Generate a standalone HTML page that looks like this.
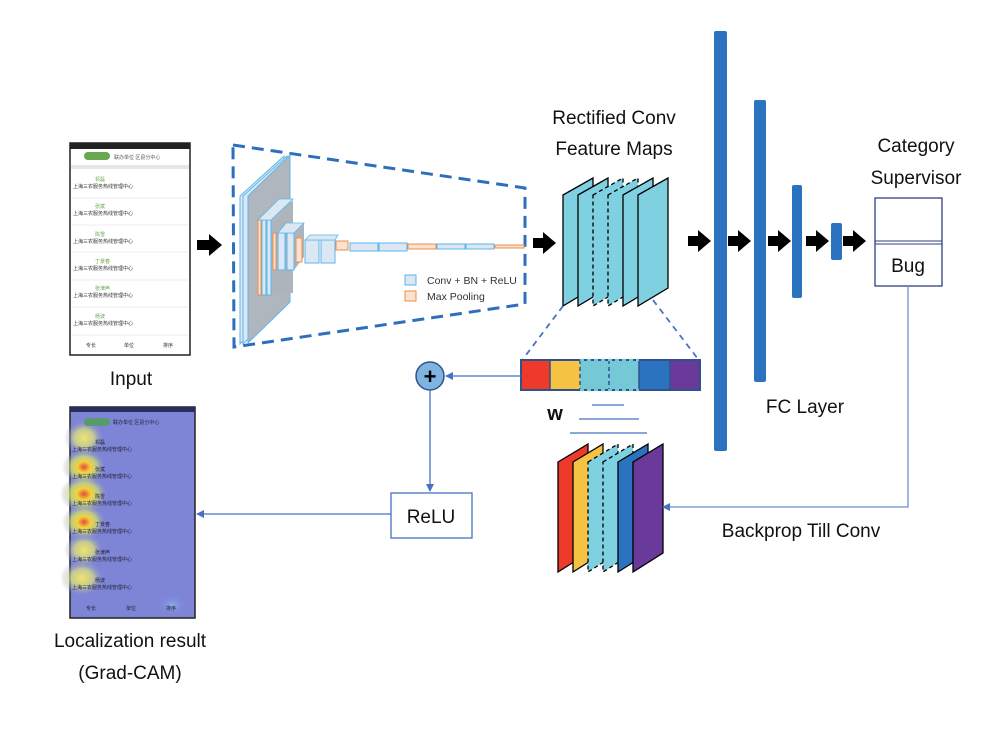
<!DOCTYPE html>
<html><head><meta charset="utf-8"><style>
body{margin:0;background:#fff;width:1004px;height:734px;overflow:hidden;font-family:"Liberation Sans","Noto Sans CJK SC",sans-serif}
svg{position:absolute;left:0;top:0}
</style></head><body>
<svg width="1004" height="734" viewBox="0 0 1004 734" font-family="Liberation Sans, Noto Sans CJK SC, sans-serif">
<defs>
<marker id="ah" markerWidth="8" markerHeight="8" refX="7" refY="4" orient="auto" markerUnits="userSpaceOnUse"><path d="M0,0 L8,4 L0,8 z" fill="#4472c4"/></marker>
<radialGradient id="hy"><stop offset="0" stop-color="#e84a3a"/><stop offset="0.3" stop-color="#f2d23a"/><stop offset="0.6" stop-color="#d6e46a" stop-opacity="0.7"/><stop offset="1" stop-color="#8088dc" stop-opacity="0"/></radialGradient>
<radialGradient id="hy2"><stop offset="0" stop-color="#f3e36a"/><stop offset="0.5" stop-color="#e0e67a" stop-opacity="0.7"/><stop offset="1" stop-color="#8088dc" stop-opacity="0"/></radialGradient>
<radialGradient id="hb"><stop offset="0" stop-color="#8fb8f0" stop-opacity="0.8"/><stop offset="1" stop-color="#8088dc" stop-opacity="0"/></radialGradient>
</defs>

<!-- Input phone -->
<rect x="70" y="143" width="120" height="212" fill="#fff" stroke="#222" stroke-width="1.5"/>
<rect x="70" y="143" width="120" height="6" fill="#222"/>
<rect x="84" y="152" width="26" height="8" rx="4" fill="#6aa84f"/>
<text x="114" y="159" font-size="5" fill="#555">联办单位  区县分中心</text>
<rect x="71" y="165" width="118" height="4" fill="#e6e6e6"/>
<g font-size="5" fill="#333">
<text x="95" y="181" fill="#6aa84f">祁磊</text><text x="73" y="188">上海三农服务热线管理中心</text>
<text x="95" y="208" fill="#6aa84f">张斌</text><text x="73" y="215">上海三农服务热线管理中心</text>
<text x="95" y="236" fill="#6aa84f">陈雪</text><text x="73" y="243">上海三农服务热线管理中心</text>
<text x="95" y="263" fill="#6aa84f">丁景春</text><text x="73" y="270">上海三农服务热线管理中心</text>
<text x="95" y="290" fill="#6aa84f">张津声</text><text x="73" y="297">上海三农服务热线管理中心</text>
<text x="95" y="318" fill="#6aa84f">杨波</text><text x="73" y="325">上海三农服务热线管理中心</text>
<text x="86" y="347">专长</text><text x="124" y="347">单位</text><text x="163" y="347">排序</text>
</g>
<g stroke="#eee"><line x1="71" y1="198" x2="189" y2="198"/><line x1="71" y1="225" x2="189" y2="225"/><line x1="71" y1="252" x2="189" y2="252"/><line x1="71" y1="280" x2="189" y2="280"/><line x1="71" y1="307" x2="189" y2="307"/><line x1="71" y1="335" x2="189" y2="335"/></g>
<text x="131" y="385" font-size="19" text-anchor="middle" fill="#111">Input</text>

<!-- black arrows -->
<g fill="#000">
<path d="M197,240 h12 v-6 l13,11 l-13,11 v-6 h-12z"/>
<path d="M533,238 h10 v-6 l13,11 l-13,11 v-6 h-10z"/>
<path d="M688,236 h10 v-6 l13,11 l-13,11 v-6 h-10z"/>
<path d="M728,236 h10 v-6 l13,11 l-13,11 v-6 h-10z"/>
<path d="M768,236 h10 v-6 l13,11 l-13,11 v-6 h-10z"/>
<path d="M806,236 h10 v-6 l13,11 l-13,11 v-6 h-10z"/>
<path d="M843,236 h10 v-6 l13,11 l-13,11 v-6 h-10z"/>
</g>

<!-- conv dashed region -->
<path d="M233,145 L525,188 L525,304 L234,347 Z" fill="none" stroke="#2e6fbd" stroke-width="3" stroke-dasharray="12,7"/>
<path d="M240,196 L284,156 L284,302 L240,344 Z" fill="#dbe8f4" stroke="#5db5ea"/>
<path d="M243,196 L287,156 L287,302 L243,344 Z" fill="#dbe8f4" stroke="#5db5ea"/>
<path d="M248,196 L290,155 L290,302 L248,343 Z" fill="#b0b6bd" stroke="#5db5ea"/>
<path d="M267,229 L293,200 L293,293 L267,295 Z" fill="#aeb4bb"/>
<rect x="258" y="220" width="3" height="75" fill="#fbe1cf" stroke="#e8904a"/>
<rect x="262" y="220" width="4" height="75" fill="#dbe8f4" stroke="#5db5ea"/>
<rect x="267" y="220" width="4" height="75" fill="#dbe8f4" stroke="#5db5ea"/>
<path d="M258,220 L279,199 L293,199 L271,220z" fill="#dbe8f4" stroke="#5db5ea" stroke-width="0.8"/>
<path d="M276,236 L290,223 L304,223 L304,257 L294,270 Z" fill="#aeb4bb"/>
<rect x="273" y="233" width="3" height="37" fill="#fbe1cf" stroke="#e8904a"/>
<rect x="278" y="233" width="7" height="37" fill="#dbe8f4" stroke="#5db5ea"/>
<rect x="287" y="233" width="7" height="37" fill="#dbe8f4" stroke="#5db5ea"/>
<path d="M278,233 L286,223 L304,223 L294,233z" fill="#dbe8f4" stroke="#5db5ea" stroke-width="0.8"/>
<rect x="296" y="238" width="6" height="24" fill="#fbe1cf" stroke="#e8904a"/>
<rect x="305" y="240" width="14" height="23" fill="#dbe8f4" stroke="#5db5ea"/>
<rect x="321" y="240" width="14" height="23" fill="#dbe8f4" stroke="#5db5ea"/>
<path d="M305,240 L310,235 L338,235 L335,240z" fill="#dbe8f4" stroke="#5db5ea" stroke-width="0.8"/>
<rect x="336" y="241" width="12" height="9" fill="#fbe1cf" stroke="#e8904a"/>
<rect x="350" y="243" width="28" height="8" fill="#dbe8f4" stroke="#5db5ea"/>
<rect x="379" y="243" width="28" height="8" fill="#dbe8f4" stroke="#5db5ea"/>
<rect x="408" y="244" width="28" height="5" fill="#fbe1cf" stroke="#e8904a"/>
<rect x="437" y="244" width="28" height="5" fill="#dbe8f4" stroke="#5db5ea"/>
<rect x="466" y="244" width="28" height="5" fill="#dbe8f4" stroke="#5db5ea"/>
<rect x="495" y="245" width="29" height="3" fill="#fbe1cf" stroke="#e8904a"/>
<rect x="405" y="275" width="11" height="10" fill="#dbe8f4" stroke="#5db5ea"/>
<rect x="405" y="291" width="11" height="10" fill="#fbe1cf" stroke="#e8904a"/>
<text x="427" y="284" font-size="10.5" fill="#333">Conv + BN + ReLU</text>
<text x="427" y="300" font-size="10.5" fill="#333">Max Pooling</text>

<!-- feature maps -->
<text x="614" y="124" font-size="19" text-anchor="middle" fill="#111">Rectified Conv</text>
<text x="614" y="155" font-size="19" text-anchor="middle" fill="#111">Feature Maps</text>
<g stroke="#000" stroke-width="1.3" fill="#7fd0e0">
<path d="M563,195 L593,178 L593,288 L563,306Z"/>
<path d="M578,195 L608,178 L608,288 L578,306Z"/>
<path d="M593,195 L623,178 L623,288 L593,306Z" stroke-dasharray="4,3"/>
<path d="M608,195 L638,178 L638,288 L608,306Z" stroke-dasharray="4,3"/>
<path d="M623,195 L653,178 L653,288 L623,306Z"/>
<path d="M638,195 L668,178 L668,288 L638,306Z"/>
</g>
<line x1="563" y1="306" x2="523" y2="359" stroke="#4472c4" stroke-width="1.8" stroke-dasharray="6,5"/>
<line x1="653" y1="300" x2="698" y2="359" stroke="#4472c4" stroke-width="1.8" stroke-dasharray="6,5"/>
<rect x="521" y="360" width="29" height="30" fill="#ee3a2a"/>
<rect x="550" y="360" width="30" height="30" fill="#f6c244"/>
<rect x="580" y="360" width="59" height="30" fill="#75c8d6"/>
<rect x="639" y="360" width="31" height="30" fill="#2c73bf"/>
<rect x="670" y="360" width="30" height="30" fill="#6a3a9a"/>
<rect x="521" y="360" width="179" height="30" fill="none" stroke="#2f528f" stroke-width="2"/>
<g stroke="#2f528f" stroke-width="1.5"><line x1="550" y1="360" x2="550" y2="390"/><line x1="639" y1="360" x2="639" y2="390"/><line x1="670" y1="360" x2="670" y2="390"/>
<line x1="580" y1="360" x2="580" y2="390" stroke-dasharray="4,3"/><line x1="609" y1="360" x2="609" y2="390" stroke-dasharray="4,3"/>
<line x1="580" y1="360" x2="639" y2="360" stroke="#75c8d6" stroke-width="2.2" stroke-dasharray="4,3"/><line x1="580" y1="390" x2="639" y2="390" stroke="#75c8d6" stroke-width="2.2" stroke-dasharray="4,3"/></g>
<text x="555" y="420" font-size="20" font-weight="bold" text-anchor="middle" fill="#111">w</text>
<g stroke="#4472c4" stroke-width="1.3"><line x1="592" y1="405" x2="624" y2="405"/><line x1="579" y1="419" x2="639" y2="419"/><line x1="570" y1="433" x2="647" y2="433"/></g>

<g stroke="#000" stroke-width="1.3">
<path d="M558,462 L588,444 L588,553 L558,572Z" fill="#ee3a2a"/>
<path d="M573,462 L603,444 L603,553 L573,572Z" fill="#f6c244"/>
<path d="M588,462 L618,444 L618,553 L588,572Z" fill="#7fd0e0" stroke-dasharray="4,3"/>
<path d="M603,462 L633,444 L633,553 L603,572Z" fill="#7fd0e0" stroke-dasharray="4,3"/>
<path d="M618,462 L648,444 L648,553 L618,572Z" fill="#2c73bf"/>
<path d="M633,462 L663,444 L663,553 L633,572Z" fill="#6a3a9a"/>
</g>

<g fill="#2c73bf"><rect x="714" y="31" width="13" height="420" rx="2"/><rect x="754" y="100" width="12" height="282" rx="2"/><rect x="792" y="185" width="10" height="113" rx="2"/><rect x="831" y="223" width="11" height="37" rx="2"/></g>
<text x="805" y="413" font-size="19" text-anchor="middle" fill="#111">FC Layer</text>
<text x="916" y="152" font-size="19" text-anchor="middle" fill="#111">Category</text>
<text x="916" y="184" font-size="19" text-anchor="middle" fill="#111">Supervisor</text>
<rect x="875" y="198" width="67" height="88" fill="#fff" stroke="#2f3f7f" stroke-width="1.3"/>
<line x1="875" y1="241" x2="942" y2="241" stroke="#2f3f7f"/><line x1="875" y1="244" x2="942" y2="244" stroke="#2f3f7f"/>
<text x="908" y="272" font-size="19" text-anchor="middle" fill="#111">Bug</text>

<polyline points="908,286 908,507 663,507" fill="none" stroke="#6a8fd0" stroke-width="1.3" marker-end="url(#ah)"/>
<text x="801" y="537" font-size="19" text-anchor="middle" fill="#111">Backprop Till Conv</text>
<line x1="521" y1="376" x2="446" y2="376" stroke="#4472c4" stroke-width="1.3" marker-end="url(#ah)"/>
<circle cx="430" cy="376" r="14" fill="#7fb4e0" stroke="#2f528f" stroke-width="1.5"/>
<text x="430" y="384" font-size="22" font-weight="bold" text-anchor="middle" fill="#000">+</text>
<line x1="430" y1="390" x2="430" y2="491" stroke="#4472c4" stroke-width="1.3" marker-end="url(#ah)"/>
<rect x="391" y="493" width="81" height="45" fill="#fff" stroke="#4472c4" stroke-width="1.3"/>
<text x="431" y="523" font-size="19" text-anchor="middle" fill="#111">ReLU</text>
<line x1="391" y1="514" x2="197" y2="514" stroke="#4472c4" stroke-width="1.3" marker-end="url(#ah)"/>

<!-- heatmap phone -->
<rect x="70" y="407" width="125" height="211" fill="#7e85d6" stroke="#222" stroke-width="1.5"/>
<rect x="70" y="407" width="125" height="5" fill="#2a2d60"/>
<ellipse cx="84" cy="438" rx="20" ry="18" fill="url(#hy2)"/>
<ellipse cx="84" cy="467" rx="22" ry="18" fill="url(#hy)"/>
<ellipse cx="84" cy="494" rx="24" ry="19" fill="url(#hy)"/>
<ellipse cx="84" cy="522" rx="22" ry="18" fill="url(#hy)"/>
<ellipse cx="84" cy="550" rx="20" ry="17" fill="url(#hy2)"/>
<ellipse cx="82" cy="578" rx="22" ry="18" fill="url(#hy2)"/>
<ellipse cx="172" cy="605" rx="14" ry="10" fill="url(#hb)"/>
<rect x="84" y="418" width="26" height="8" rx="4" fill="#5a9a6a"/>
<g font-size="5" fill="#223">
<text x="113" y="424">联办单位  区县分中心</text>
<text x="95" y="444">祁磊</text><text x="72" y="451">上海三农服务热线管理中心</text>
<text x="95" y="471">张斌</text><text x="72" y="478">上海三农服务热线管理中心</text>
<text x="95" y="498">陈雪</text><text x="72" y="505">上海三农服务热线管理中心</text>
<text x="95" y="526">丁景春</text><text x="72" y="533">上海三农服务热线管理中心</text>
<text x="95" y="554">张津声</text><text x="72" y="561">上海三农服务热线管理中心</text>
<text x="95" y="582">杨波</text><text x="72" y="589">上海三农服务热线管理中心</text>
<text x="86" y="610">专长</text><text x="126" y="610">单位</text><text x="166" y="610">排序</text>
</g>
<text x="130" y="647" font-size="19" text-anchor="middle" fill="#111">Localization result</text>
<text x="130" y="679" font-size="19" text-anchor="middle" fill="#111">(Grad-CAM)</text>
</svg>
</body></html>
